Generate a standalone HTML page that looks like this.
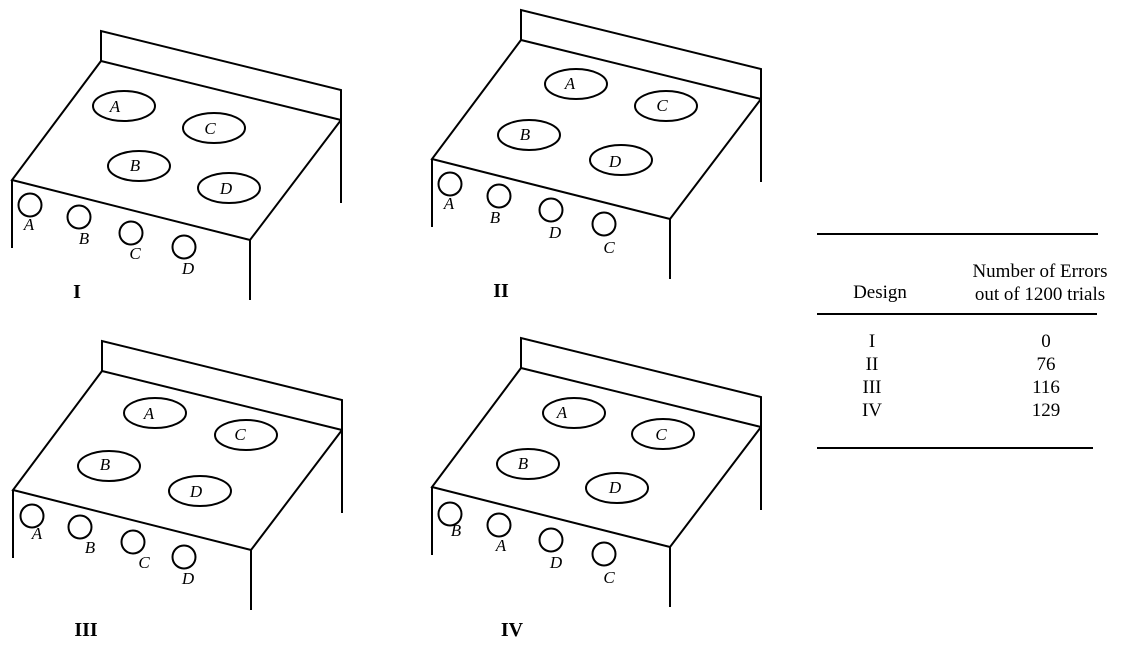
<!DOCTYPE html>
<html><head><meta charset="utf-8"><style>
html,body{margin:0;padding:0;background:#fff;}
svg{display:block;}
text{font-family:"Liberation Serif",serif;}
.it{font-style:italic;font-size:17px;}
.rn{font-weight:bold;font-size:20px;}
.tb{font-size:19px;}
</style></head><body>
<svg width="1123" height="647" viewBox="0 0 1123 647" xmlns="http://www.w3.org/2000/svg">
<defs>
<g id="body" fill="none" stroke="#000" stroke-width="2">
<polyline points="101,61 101,31 341,90 341,203"/>
<line x1="101" y1="61" x2="341" y2="120"/>
<polyline points="101,61 12,180 250,240 341,120"/>
<line x1="12" y1="180" x2="12" y2="248"/>
<line x1="250" y1="240" x2="250" y2="300"/>
</g>
</defs>
<g fill="none" stroke="#000" stroke-width="2">
<use href="#body"/>
<ellipse cx="124" cy="106" rx="31" ry="15"/>
<ellipse cx="214" cy="128" rx="31" ry="15"/>
<ellipse cx="139" cy="166" rx="31" ry="15"/>
<ellipse cx="229" cy="188" rx="31" ry="15"/>
<circle cx="30" cy="205" r="11.5"/><circle cx="79" cy="217" r="11.5"/><circle cx="131" cy="233" r="11.5"/><circle cx="184" cy="247" r="11.5"/>
<use href="#body" transform="translate(420,-21)"/>
<ellipse cx="576" cy="84" rx="31" ry="15"/>
<ellipse cx="666" cy="106" rx="31" ry="15"/>
<ellipse cx="529" cy="135" rx="31" ry="15"/>
<ellipse cx="621" cy="160" rx="31" ry="15"/>
<circle cx="450" cy="184" r="11.5"/><circle cx="499" cy="196" r="11.5"/><circle cx="551" cy="210" r="11.5"/><circle cx="604" cy="224" r="11.5"/>
<use href="#body" transform="translate(1,310)"/>
<ellipse cx="155" cy="413" rx="31" ry="15"/>
<ellipse cx="246" cy="435" rx="31" ry="15"/>
<ellipse cx="109" cy="466" rx="31" ry="15"/>
<ellipse cx="200" cy="491" rx="31" ry="15"/>
<circle cx="32" cy="516" r="11.5"/><circle cx="80" cy="527" r="11.5"/><circle cx="133" cy="542" r="11.5"/><circle cx="184" cy="557" r="11.5"/>
<use href="#body" transform="translate(420,307)"/>
<ellipse cx="574" cy="413" rx="31" ry="15"/>
<ellipse cx="663" cy="434" rx="31" ry="15"/>
<ellipse cx="528" cy="464" rx="31" ry="15"/>
<ellipse cx="617" cy="488" rx="31" ry="15"/>
<circle cx="450" cy="514" r="11.5"/><circle cx="499" cy="525" r="11.5"/><circle cx="551" cy="540" r="11.5"/><circle cx="604" cy="554" r="11.5"/>
<line x1="817" y1="234" x2="1098" y2="234"/>
<line x1="817" y1="314" x2="1097" y2="314"/>
<line x1="817" y1="448" x2="1093" y2="448"/>
</g>
<g class="it" text-anchor="middle">
<text x="115" y="112">A</text><text x="210" y="134">C</text><text x="135" y="171">B</text><text x="226" y="194">D</text>
<text x="29" y="230">A</text><text x="84" y="244">B</text><text x="135" y="259">C</text><text x="188" y="274">D</text>
<text x="570" y="89">A</text><text x="662" y="111">C</text><text x="525" y="140">B</text><text x="615" y="167">D</text>
<text x="449" y="209">A</text><text x="495" y="223">B</text><text x="555" y="238">D</text><text x="609" y="253">C</text>
<text x="149" y="419">A</text><text x="240" y="440">C</text><text x="105" y="470">B</text><text x="196" y="497">D</text>
<text x="37" y="539">A</text><text x="90" y="553">B</text><text x="144" y="568">C</text><text x="188" y="584">D</text>
<text x="562" y="418">A</text><text x="661" y="440">C</text><text x="523" y="469">B</text><text x="615" y="493">D</text>
<text x="456" y="536">B</text><text x="501" y="551">A</text><text x="556" y="568">D</text><text x="609" y="583">C</text>
</g>
<g class="rn" text-anchor="middle">
<text x="77" y="298">I</text><text x="501" y="297">II</text><text x="86" y="636">III</text><text x="512" y="636">IV</text>
</g>
<g class="tb" text-anchor="middle">
<text x="880" y="298">Design</text>
<text x="1040" y="277">Number of Errors</text>
<text x="1040" y="300">out of 1200 trials</text>
<text x="872" y="347">I</text><text x="1046" y="347">0</text>
<text x="872" y="370">II</text><text x="1046" y="370">76</text>
<text x="872" y="393">III</text><text x="1046" y="393">116</text>
<text x="872" y="416">IV</text><text x="1046" y="416">129</text>
</g>
</svg>
</body></html>
